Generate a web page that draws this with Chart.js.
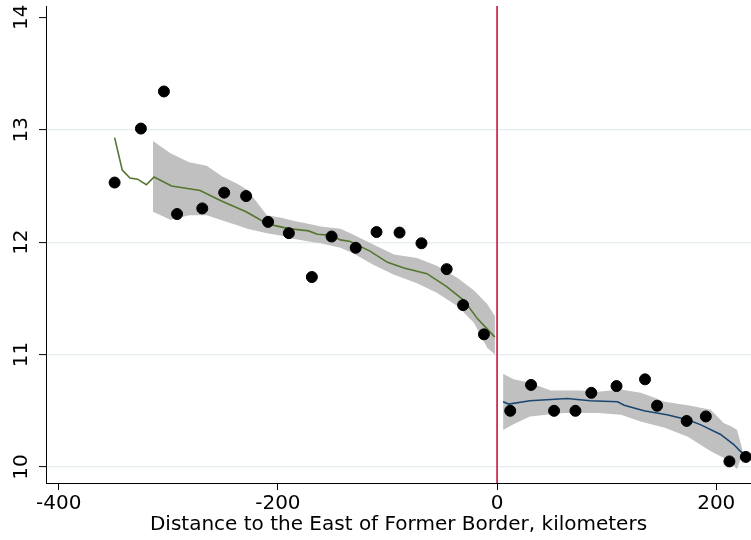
<!DOCTYPE html>
<html>
<head>
<meta charset="utf-8">
<script src="https://cdn.jsdelivr.net/npm/chart.js@4.4.1/dist/chart.umd.min.js"></script>
<style>
  html, body { margin: 0; padding: 0; background: #fff; overflow: hidden; }
  canvas { display: block; }
</style>
</head>
<body>
<canvas id="chart" width="751" height="540"></canvas>
<script>
const binX = [-349, -325, -304, -292, -269, -249, -229, -209, -190, -169, -151, -129, -110, -89, -69, -46, -31, -12,
  12, 31, 52, 71.5, 86, 109, 135, 146, 173, 190.5, 212, 227];
const binY = [12.53, 13.01, 13.34, 12.25, 12.30, 12.44, 12.41, 12.18, 12.08, 11.69, 12.05, 11.95, 12.09, 12.085, 11.99, 11.76, 11.44, 11.18,
  10.50, 10.73, 10.50, 10.50, 10.66, 10.72, 10.78, 10.545, 10.41, 10.45, 10.05, 10.09];

const westFitX = [-349, -342, -335, -328, -320, -313, -297, -278, -271, -250, -229, -209, -190, -172, -164, -151, -143, -134, -116, -100, -85, -64, -46, -30, -18, -2];
const westFitY = [12.93, 12.64, 12.57, 12.56, 12.51, 12.58, 12.50, 12.47, 12.46, 12.36, 12.27, 12.16, 12.12, 12.10, 12.07, 12.06, 12.02, 12.005, 11.92, 11.82, 11.77, 11.72, 11.605, 11.48, 11.32, 11.155];

const westBandX = [-314, -298, -281, -265, -250, -237, -228, -210, -198, -186, -168, -161, -143, -131, -113, -94, -73, -55, -36, -21, -9, -2];
const westBandHi = [12.90, 12.79, 12.71, 12.68, 12.58, 12.52, 12.465, 12.24, 12.22, 12.19, 12.155, 12.14, 12.12, 12.065, 11.98, 11.89, 11.86, 11.79, 11.68, 11.57, 11.45, 11.34];
const westBandLo = [12.27, 12.20, 12.24, 12.24, 12.19, 12.15, 12.12, 12.08, 12.06, 12.03, 12.00, 11.99, 11.95, 11.90, 11.80, 11.71, 11.635, 11.55, 11.43, 11.28, 11.06, 11.00];

const eastFitX = [5.5, 10.6, 30, 64, 85, 110, 116, 134, 155, 174, 186, 204, 216, 222, 227];
const eastFitY = [10.58, 10.56, 10.59, 10.61, 10.59, 10.58, 10.55, 10.50, 10.465, 10.42, 10.375, 10.29, 10.20, 10.14, 10.11];

const eastBandX = [5.5, 15, 30, 49, 61, 76, 92, 113, 131, 137, 153, 174, 195, 207, 214, 219, 224];
const eastBandHi = [10.83, 10.78, 10.75, 10.68, 10.68, 10.68, 10.67, 10.69, 10.66, 10.64, 10.58, 10.55, 10.51, 10.39, 10.36, 10.33, 10.15];
const eastBandLo = [10.33, 10.38, 10.45, 10.47, 10.48, 10.48, 10.48, 10.465, 10.405, 10.39, 10.35, 10.27, 10.14, 10.08, 10.03, 9.98, 10.12];

const xTicks = [-400, -200, 0, 200];
const yTicks = [10, 11, 12, 13, 14];
const xRange = [-411.6, 231.7];
const yRange = [9.858, 14.1];
const cutoff = 0;

const xTitle = 'Distance to the East of Former Border, kilometers';

const pts = (xs, ys) => xs.map((x, i) => ({ x, y: ys[i] }));

Chart.defaults.font = { family: "'DejaVu Sans', sans-serif", size: 20 };
Chart.defaults.color = '#000';

const gridColor = '#e4edf0';
const bandColor = '#c0c0c0';

const line = (data, color) => ({
  data, showLine: true, borderColor: color, borderWidth: 1.6,
  pointRadius: 0, fill: false, tension: 0
});

const band = (data, fill) => ({
  data, showLine: true, borderWidth: 0, borderColor: 'rgba(0,0,0,0)',
  backgroundColor: bandColor, pointRadius: 0, fill, tension: 0
});

const noPadding = s => {
  s.paddingLeft = 0;
  s.paddingRight = 0;
  s.paddingTop = 0;
  s.paddingBottom = 0;
};

new Chart(document.getElementById('chart'), {
  type: 'scatter',
  data: {
    datasets: [
      { data: pts(binX, binY), backgroundColor: '#000', borderColor: '#000', pointRadius: 5.5, pointHoverRadius: 5.5 },
      line(pts(westFitX, westFitY), '#55752f'),
      line(pts(eastFitX, eastFitY), '#1a476f'),
      band(pts(westBandX, westBandHi), '+1'),
      band(pts(westBandX, westBandLo), false),
      band(pts(eastBandX, eastBandHi), '+1'),
      band(pts(eastBandX, eastBandLo), false),
      line(pts([cutoff, cutoff], yRange), '#c8143c')
    ]
  },
  options: {
    responsive: false,
    animation: false,
    events: [],
    layout: { autoPadding: false, padding: { top: 6, right: 0, left: 0, bottom: 0 } },
    plugins: { legend: { display: false }, tooltip: { enabled: false } },
    scales: {
      x: {
        type: 'linear',
        min: xRange[0],
        max: xRange[1],
        afterBuildTicks: s => { s.ticks = xTicks.map(value => ({ value })); },
        afterFit: s => { s.height = 57; noPadding(s); },
        grid: { color: 'rgba(0,0,0,0)', tickColor: '#000', tickLength: 7, tickWidth: 1 },
        border: { color: '#000', width: 1 },
        ticks: { padding: 2, maxRotation: 0, autoSkip: false },
        title: { display: true, text: xTitle, padding: { top: 0, bottom: 3 } }
      },
      y: {
        type: 'linear',
        min: yRange[0],
        max: yRange[1],
        afterBuildTicks: s => { s.ticks = yTicks.map(value => ({ value })); },
        afterFit: s => { s.width = 46; noPadding(s); },
        grid: {
          color: c => (c.tick && c.tick.value === 14 ? 'rgba(0,0,0,0)' : gridColor),
          lineWidth: 1.2,
          tickColor: '#000', tickLength: 7, tickWidth: 1
        },
        border: { color: '#000', width: 1 },
        ticks: { padding: 4, minRotation: 90, maxRotation: 90, crossAlign: 'center', autoSkip: false }
      }
    }
  }
});
</script>
</body>
</html>
